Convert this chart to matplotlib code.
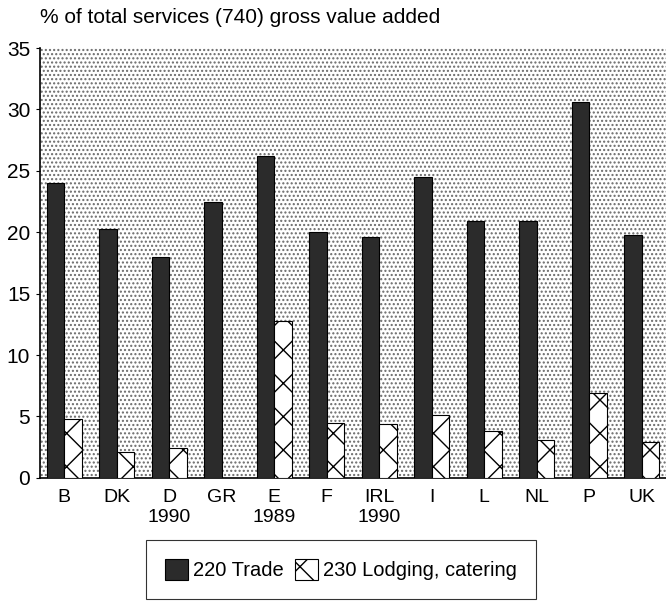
import matplotlib
matplotlib.use("Agg")
import matplotlib.pyplot as plt
import numpy as np

countries = ["B", "DK", "D\n1990", "GR", "E\n1989", "F", "IRL\n1990", "I", "L", "NL", "P", "UK"]
trade = [24.0, 20.3, 18.0, 22.5, 26.2, 20.0, 19.6, 24.5, 20.9, 20.9, 30.6, 19.8]
lodging = [4.8, 2.1, 2.4, 0.0, 12.8, 4.5, 4.4, 5.1, 3.8, 3.1, 6.9, 2.9]

plt.rcParams['font.family'] = ['Liberation Sans', 'DejaVu Sans']
plt.rcParams['hatch.linewidth'] = 1.0

fig = plt.figure(figsize=(6.66, 6.08), dpi=100)
ax = fig.add_axes([0.060, 0.214, 0.940, 0.707])

# dotted background
ax.set_facecolor("white")
ax.patch.set_hatch("....")
ax.patch.set_edgecolor("#6a6a6a")
ax.patch.set_linewidth(0)

x = np.arange(len(countries))
w = 1 / 3
ax.bar(x - w / 2, trade, w, color="#2b2b2b", edgecolor="black", linewidth=0.8,
       label="220 Trade", zorder=3)
ax.bar(x + w / 2, lodging, w, color="white", edgecolor="black", hatch="x",
       linewidth=0.8, label="230 Lodging, catering", zorder=3)

ax.set_xlim(-0.46, len(countries) - 0.54)
ax.set_ylim(0, 35)
ax.set_yticks(range(0, 36, 5))
ax.set_xticks(x)
ax.set_xticklabels(countries, fontsize=14, linespacing=1.2)
ax.tick_params(axis="y", labelsize=15, length=3, pad=4)
ax.tick_params(axis="x", length=0, pad=8)

for s in ["top", "right"]:
    ax.spines[s].set_visible(False)
ax.spines["left"].set_linewidth(1.2)
ax.spines["bottom"].set_linewidth(1.2)

fig.text(0.060, 0.972, "% of total services (740) gross value added", fontsize=15,
         ha="left", va="center")

leg = fig.legend(loc="lower center", bbox_to_anchor=(0.512, -0.002), ncol=2,
                 fontsize=14.5, frameon=True, fancybox=False, edgecolor="black",
                 handlelength=1.1, handleheight=1.2, handletextpad=0.25,
                 columnspacing=0.6, borderpad=0.95)
leg.get_frame().set_linewidth(0.8)

fig.savefig("out.png", dpi=100)
